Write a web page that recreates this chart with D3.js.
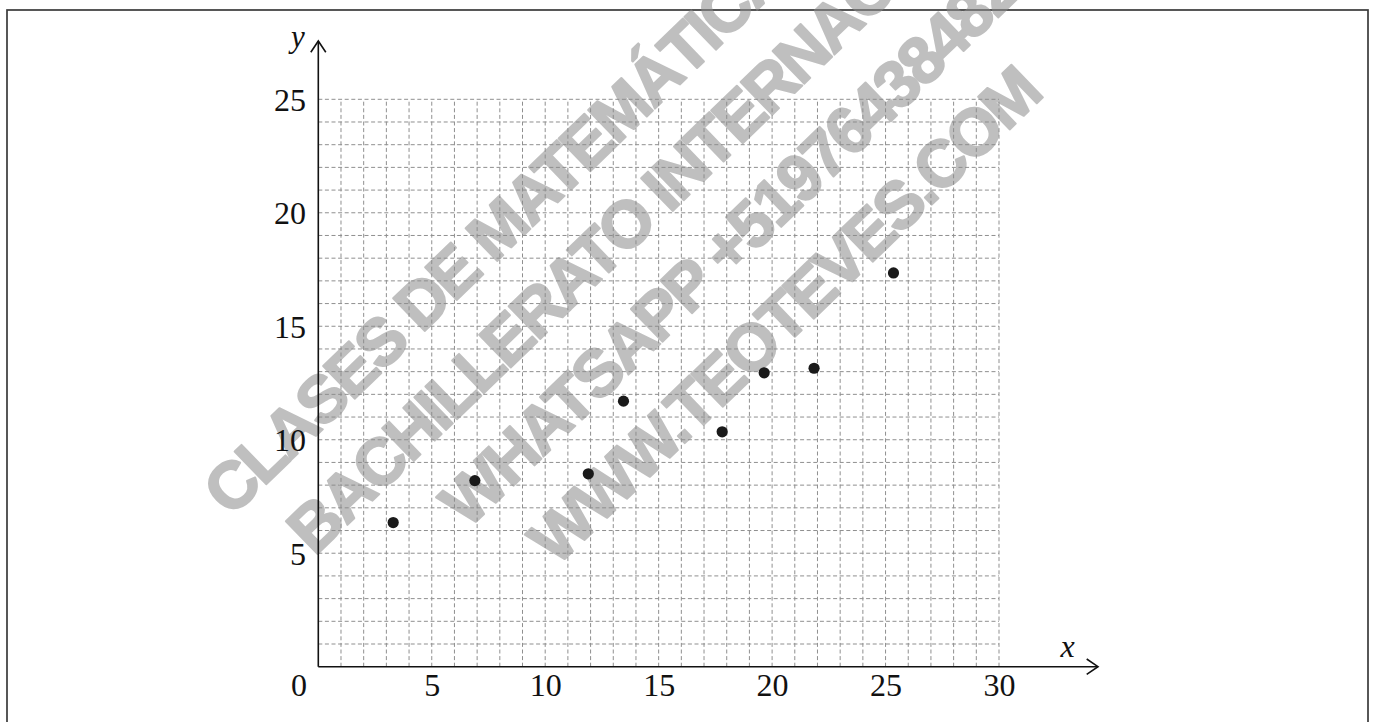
<!DOCTYPE html>
<html>
<head>
<meta charset="utf-8">
<script src="https://cdn.jsdelivr.net/npm/d3@7"></script>
<style>
  html, body { margin: 0; padding: 0; background: #ffffff; }
  svg { display: block; }
</style>
</head>
<body>
<svg id="chart" width="1373" height="722"></svg>
<script>
// ---- data ----
const xValues = [3.3, 6.9, 11.9, 13.45, 17.8, 19.65, 21.85, 25.35];
const yValues = [6.35, 8.2, 8.5, 11.7, 10.35, 12.95, 13.15, 17.35];
const xTickLabels = [5, 10, 15, 20, 25, 30];
const yTickLabels = [5, 10, 15, 20, 25];
const originLabel = "0";
const xAxisLabel = "x";
const yAxisLabel = "y";
const watermarkLines = [
  "CLASES DE MATEMÁTICAS",
  "BACHILLERATO INTERNACIONAL",
  "WHATSAPP +51976438482",
  "WWW.TEOTEVES.COM"
];

// ---- layout ----
const svg = d3.select("#chart");
const x = d3.scaleLinear().domain([0, 30]).range([318.3, 999]);
const y = d3.scaleLinear().domain([0, 25]).range([666.7, 99.3]);
const serif = "'Liberation Serif', 'Times New Roman', serif";

// frame
svg.append("rect")
  .attr("x", 7).attr("y", 10).attr("width", 1361).attr("height", 800)
  .attr("fill", "none").attr("stroke", "#3a3a3a").attr("stroke-width", 1.7);

// grid
const grid = svg.append("g").attr("stroke", "#8f8f8f").attr("stroke-width", 1)
  .attr("stroke-dasharray", "4,2.6").attr("fill", "none");
grid.selectAll("line.v").data(d3.range(1, 31)).join("line").attr("class", "v")
  .attr("x1", d => x(d)).attr("x2", d => x(d))
  .attr("y1", y(0)).attr("y2", y(25));
grid.selectAll("line.h").data(d3.range(1, 26)).join("line").attr("class", "h")
  .attr("y1", d => y(d)).attr("y2", d => y(d))
  .attr("x1", x(0)).attr("x2", x(30));

// watermark
const wmPos = [[230.8, 518.2], [314.2, 557.0], [467.5, 530.0], [556.2, 567.3]];
svg.append("g").attr("opacity", 0.55).selectAll("text").data(watermarkLines).join("text")
  .attr("transform", (d, i) => `translate(${wmPos[i][0]},${wmPos[i][1]}) rotate(-44)`)
  .attr("font-family", "'Liberation Sans', Arial, sans-serif")
  .attr("font-weight", "bold")
  .attr("font-size", 66)
  .attr("letter-spacing", -3)
  .attr("fill", "#8c8c8c")
  .attr("stroke", "#8c8c8c").attr("stroke-width", 2).attr("stroke-linejoin", "round")
  .text(d => d);

// axes lines with arrows
const axes = svg.append("g").attr("stroke", "#111").attr("stroke-width", 1.6).attr("fill", "none");
axes.append("line").attr("x1", x(0)).attr("y1", y(0)).attr("x2", 1098).attr("y2", y(0));
axes.append("line").attr("x1", x(0)).attr("y1", y(0)).attr("x2", x(0)).attr("y2", 41);
axes.append("path").attr("d", `M${1086.7},${y(0) - 7.7} L1098,${y(0)} L${1086.7},${y(0) + 7.7}`);
axes.append("path").attr("d", `M${x(0) - 7.5},52.3 L${x(0)},41 L${x(0) + 7.5},52.3`);

// tick labels via axis generators
const xAxis = d3.axisBottom(x).tickValues(xTickLabels).tickSize(0).tickPadding(0);
const gx = svg.append("g").attr("transform", `translate(0,${y(0)})`).call(xAxis);
gx.select(".domain").remove();
gx.selectAll("text").attr("font-family", serif).attr("font-size", 32).attr("fill", "#111")
  .attr("dy", null).attr("y", 29.5);

const yAxis = d3.axisLeft(y).tickValues(yTickLabels).tickSize(0).tickPadding(0);
const gy = svg.append("g").attr("transform", `translate(306,0)`).call(yAxis);
gy.select(".domain").remove();
gy.selectAll("text").attr("font-family", serif).attr("font-size", 32).attr("fill", "#111")
  .attr("x", 0).attr("dy", "0.34em");

svg.append("text").attr("x", 307).attr("y", y(0) + 29.5)
  .attr("text-anchor", "end").attr("font-family", serif).attr("font-size", 32).attr("fill", "#111")
  .text(originLabel);

svg.append("text").attr("x", 1067.5).attr("y", 657).attr("text-anchor", "middle")
  .attr("font-family", serif).attr("font-style", "italic").attr("font-size", 32).attr("fill", "#111")
  .text(xAxisLabel);
svg.append("text").attr("x", 298).attr("y", 46.5).attr("text-anchor", "middle")
  .attr("font-family", serif).attr("font-style", "italic").attr("font-size", 31).attr("fill", "#111")
  .text(yAxisLabel);

// points
svg.append("g").selectAll("circle").data(xValues).join("circle")
  .attr("cx", d => x(d)).attr("cy", (d, i) => y(yValues[i])).attr("r", 5.6)
  .attr("fill", "#1a1a1a");
</script>
</body>
</html>
